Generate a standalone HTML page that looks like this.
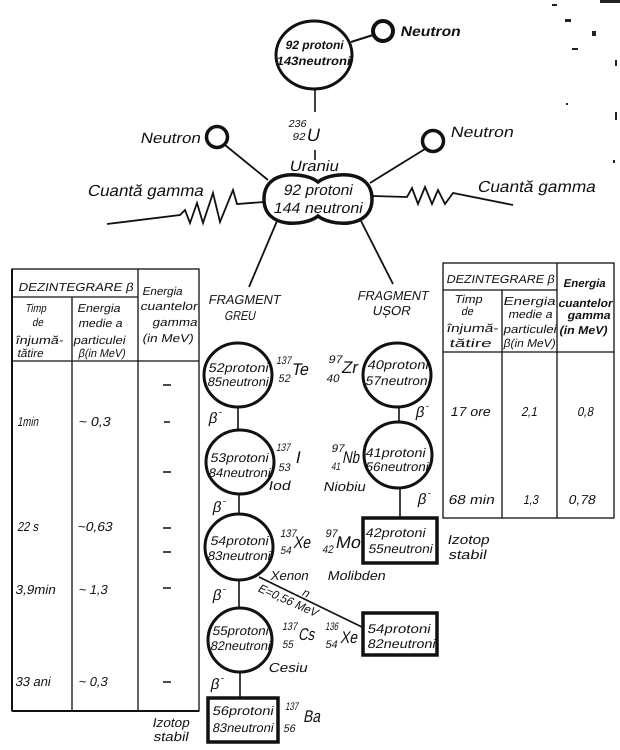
<!DOCTYPE html>
<html><head><meta charset="utf-8"><style>
html,body{margin:0;padding:0;background:#fff;}
svg{display:block;}
text{font-family:"Liberation Sans","DejaVu Sans",sans-serif;fill:#111;}
.ln{stroke:#111;fill:none;}
</style></head><body>
<svg width="620" height="750" viewBox="0 0 620 750" xmlns="http://www.w3.org/2000/svg">
<rect width="620" height="750" fill="#fff"/>

<!-- specks top right -->
<g fill="#222">
<rect x="600" y="0" width="20" height="3"/><rect x="552" y="4" width="5" height="2"/>
<rect x="565" y="19" width="6" height="3"/><rect x="592" y="31" width="4" height="5"/>
<rect x="572" y="48" width="6" height="2"/><rect x="566" y="103" width="2" height="2"/>
<rect x="615" y="60" width="2" height="6"/><rect x="615" y="112" width="2" height="8"/>
<rect x="613" y="160" width="2" height="3"/>
</g>

<!-- top U-235 -->
<ellipse cx="314" cy="55" rx="38" ry="34" class="ln" stroke-width="3"/>
<text transform="matrix(1 0 -0.2 1 285 49)" font-size="12" font-weight="bold" textLength="58" lengthAdjust="spacingAndGlyphs">92 protoni</text>
<text transform="matrix(1 0 -0.2 1 276 65)" font-size="12" font-weight="bold" textLength="74" lengthAdjust="spacingAndGlyphs">143neutroni</text>
<line x1="351" y1="42" x2="373" y2="35" class="ln" stroke-width="2"/>
<circle cx="383" cy="31" r="10" class="ln" stroke-width="4"/>
<text transform="matrix(1 0 -0.2 1 400 36)" font-size="14" font-weight="bold" textLength="60" lengthAdjust="spacingAndGlyphs">Neutron</text>

<line x1="315" y1="89" x2="315" y2="112" class="ln" stroke-width="1.6"/>
<line x1="315" y1="150" x2="315" y2="160" class="ln" stroke-width="1.6"/>
<text transform="matrix(1 0 -0.2 1 288 127)" font-size="10" textLength="18" lengthAdjust="spacingAndGlyphs">236</text>
<text transform="matrix(1 0 -0.2 1 292 140)" font-size="10" textLength="13" lengthAdjust="spacingAndGlyphs">92</text>
<text transform="matrix(1 0 -0.2 1 306 141)" font-size="18">U</text>
<text transform="matrix(1 0 -0.2 1 289 171)" font-size="15" textLength="49" lengthAdjust="spacingAndGlyphs">Uraniu</text>

<!-- side neutrons -->
<circle cx="217" cy="137" r="10.5" class="ln" stroke-width="3.5"/>
<text transform="matrix(1 0 -0.2 1 140 143)" font-size="15" textLength="60" lengthAdjust="spacingAndGlyphs">Neutron</text>
<line x1="225" y1="145" x2="268" y2="180" class="ln" stroke-width="1.8"/>
<circle cx="433" cy="141" r="10.5" class="ln" stroke-width="3.5"/>
<text transform="matrix(1 0 -0.2 1 450 137)" font-size="15" textLength="63" lengthAdjust="spacingAndGlyphs">Neutron</text>
<line x1="425" y1="149" x2="370" y2="183" class="ln" stroke-width="1.8"/>

<!-- peanut -->
<path d="M318,182 C330,172 372,168 372,199 C372,230 330,226 318,216 C306,226 264,230 264,199 C264,168 306,172 318,182 Z" class="ln" stroke-width="3.5"/>
<text transform="matrix(1 0 -0.2 1 283 195)" font-size="15" textLength="69" lengthAdjust="spacingAndGlyphs">92 protoni</text>
<text transform="matrix(1 0 -0.2 1 273 213)" font-size="15" textLength="89" lengthAdjust="spacingAndGlyphs">144 neutroni</text>

<!-- gamma -->
<polyline points="264,202 237,204 233,190 220,222 213,193 203,223 197,203 190,223 185,210 180,215 107,224" class="ln" stroke-width="1.8"/>
<polyline points="372,196 407,197 412,188 418,204 425,187 432,204 438,190 445,204 453,193 513,205" class="ln" stroke-width="1.8"/>
<text transform="matrix(1 0 -0.2 1 87 196)" font-size="16" textLength="116" lengthAdjust="spacingAndGlyphs">Cuantă gamma</text>
<text transform="matrix(1 0 -0.2 1 477 192)" font-size="16" textLength="118" lengthAdjust="spacingAndGlyphs">Cuantă gamma</text>

<!-- fragment lines -->
<line x1="277" y1="221" x2="249" y2="287" class="ln" stroke-width="1.8"/>
<line x1="361" y1="221" x2="393" y2="284" class="ln" stroke-width="1.8"/>
<text transform="matrix(1 0 -0.2 1 208 304)" font-size="13" textLength="72" lengthAdjust="spacingAndGlyphs">FRAGMENT</text>
<text transform="matrix(1 0 -0.2 1 224 320)" font-size="13" textLength="31" lengthAdjust="spacingAndGlyphs">GREU</text>
<text transform="matrix(1 0 -0.2 1 357 300)" font-size="13" textLength="71" lengthAdjust="spacingAndGlyphs">FRAGMENT</text>
<text transform="matrix(1 0 -0.2 1 372 315)" font-size="13" textLength="38" lengthAdjust="spacingAndGlyphs">UȘOR</text>

<!-- chains -->
<g class="ln" stroke-width="3">
<ellipse cx="238" cy="375" rx="34" ry="32"/>
<ellipse cx="240" cy="462" rx="34" ry="32"/>
<ellipse cx="239" cy="547" rx="34" ry="33"/>
<ellipse cx="240" cy="640" rx="32" ry="32"/>
<ellipse cx="397" cy="375" rx="34" ry="32"/>
<ellipse cx="398" cy="455" rx="34" ry="33"/>
</g>
<g class="ln" stroke-width="3.5">
<rect x="363" y="518" width="74" height="45"/>
<rect x="363" y="613" width="74" height="42"/>
<rect x="208" y="698" width="70" height="44"/>
</g>
<g class="ln" stroke-width="1.6">
<line x1="238" y1="407" x2="238" y2="430"/>
<line x1="239" y1="494" x2="239" y2="514"/>
<line x1="239" y1="580" x2="239" y2="608"/>
<line x1="240" y1="672" x2="240" y2="698"/>
<line x1="399" y1="407" x2="399" y2="422"/>
<line x1="400" y1="488" x2="400" y2="518"/>
<line x1="259" y1="577" x2="364" y2="628"/>
</g>

<g font-size="12.5">
<text transform="matrix(1 0 -0.2 1 208 372)" textLength="60" lengthAdjust="spacingAndGlyphs">52protoni</text>
<text transform="matrix(1 0 -0.2 1 207 386)" textLength="61" lengthAdjust="spacingAndGlyphs">85neutroni</text>
<text transform="matrix(1 0 -0.2 1 210 462)" textLength="58" lengthAdjust="spacingAndGlyphs">53protoni</text>
<text transform="matrix(1 0 -0.2 1 208 477)" textLength="62" lengthAdjust="spacingAndGlyphs">84neutroni</text>
<text transform="matrix(1 0 -0.2 1 210 545)" textLength="58" lengthAdjust="spacingAndGlyphs">54protoni</text>
<text transform="matrix(1 0 -0.2 1 207 560)" textLength="63" lengthAdjust="spacingAndGlyphs">83neutroni</text>
<text transform="matrix(1 0 -0.2 1 212 635)" textLength="56" lengthAdjust="spacingAndGlyphs">55protoni</text>
<text transform="matrix(1 0 -0.2 1 210 650)" textLength="60" lengthAdjust="spacingAndGlyphs">82neutroni</text>
<text transform="matrix(1 0 -0.2 1 212 715)" textLength="61" lengthAdjust="spacingAndGlyphs">56protoni</text>
<text transform="matrix(1 0 -0.2 1 212 732)" textLength="61" lengthAdjust="spacingAndGlyphs">83neutroni</text>
<text transform="matrix(1 0 -0.2 1 367 633)" textLength="63" lengthAdjust="spacingAndGlyphs">54protoni</text>
<text transform="matrix(1 0 -0.2 1 367 648)" textLength="68" lengthAdjust="spacingAndGlyphs">82neutroni</text>
<text transform="matrix(1 0 -0.2 1 367 369)" textLength="61" lengthAdjust="spacingAndGlyphs">40protoni</text>
<text transform="matrix(1 0 -0.2 1 365 385)" textLength="65" lengthAdjust="spacingAndGlyphs">57neutroni</text>
<text transform="matrix(1 0 -0.2 1 365 457)" textLength="60" lengthAdjust="spacingAndGlyphs">41protoni</text>
<text transform="matrix(1 0 -0.2 1 365 471)" textLength="63" lengthAdjust="spacingAndGlyphs">56neutroni</text>
<text transform="matrix(1 0 -0.2 1 365 537)" textLength="60" lengthAdjust="spacingAndGlyphs">42protoni</text>
<text transform="matrix(1 0 -0.2 1 368 553)" textLength="64" lengthAdjust="spacingAndGlyphs">55neutroni</text>
</g>

<!-- isotope labels -->
<g font-size="11">
<text transform="matrix(1 0 -0.2 1 276 364)" textLength="15" lengthAdjust="spacingAndGlyphs">137</text>
<text transform="matrix(1 0 -0.2 1 278 382)" textLength="12" lengthAdjust="spacingAndGlyphs">52</text>
<text transform="matrix(1 0 -0.2 1 276 451)" textLength="14" lengthAdjust="spacingAndGlyphs">137</text>
<text transform="matrix(1 0 -0.2 1 278 471)" textLength="12" lengthAdjust="spacingAndGlyphs">53</text>
<text transform="matrix(1 0 -0.2 1 280 537)" textLength="16" lengthAdjust="spacingAndGlyphs">137</text>
<text transform="matrix(1 0 -0.2 1 280 554)" textLength="11" lengthAdjust="spacingAndGlyphs">54</text>
<text transform="matrix(1 0 -0.2 1 282 630)" textLength="15" lengthAdjust="spacingAndGlyphs">137</text>
<text transform="matrix(1 0 -0.2 1 282 648)" textLength="11" lengthAdjust="spacingAndGlyphs">55</text>
<text transform="matrix(1 0 -0.2 1 325 630)" textLength="13" lengthAdjust="spacingAndGlyphs">136</text>
<text transform="matrix(1 0 -0.2 1 325 648)" textLength="12" lengthAdjust="spacingAndGlyphs">54</text>
<text transform="matrix(1 0 -0.2 1 285 710)" textLength="13" lengthAdjust="spacingAndGlyphs">137</text>
<text transform="matrix(1 0 -0.2 1 283 732)" textLength="12" lengthAdjust="spacingAndGlyphs">56</text>
<text transform="matrix(1 0 -0.2 1 328 363)" textLength="14" lengthAdjust="spacingAndGlyphs">97</text>
<text transform="matrix(1 0 -0.2 1 326 382)" textLength="13" lengthAdjust="spacingAndGlyphs">40</text>
<text transform="matrix(1 0 -0.2 1 331 452)" textLength="13" lengthAdjust="spacingAndGlyphs">97</text>
<text transform="matrix(1 0 -0.2 1 331 470)" textLength="9" lengthAdjust="spacingAndGlyphs">41</text>
<text transform="matrix(1 0 -0.2 1 325 537)" textLength="12" lengthAdjust="spacingAndGlyphs">97</text>
<text transform="matrix(1 0 -0.2 1 322 553)" textLength="11" lengthAdjust="spacingAndGlyphs">42</text>
</g>
<g font-size="17">
<text transform="matrix(1 0 -0.2 1 291 375)" textLength="17" lengthAdjust="spacingAndGlyphs">Te</text>
<text transform="matrix(1 0 -0.2 1 295 463)">I</text>
<text transform="matrix(1 0 -0.2 1 293 548)" textLength="17" lengthAdjust="spacingAndGlyphs">Xe</text>
<text transform="matrix(1 0 -0.2 1 298 640)" textLength="16" lengthAdjust="spacingAndGlyphs">Cs</text>
<text transform="matrix(1 0 -0.2 1 340 643)" textLength="17" lengthAdjust="spacingAndGlyphs">Xe</text>
<text transform="matrix(1 0 -0.2 1 303 722)" textLength="17" lengthAdjust="spacingAndGlyphs">Ba</text>
<text transform="matrix(1 0 -0.2 1 341 373)" textLength="16" lengthAdjust="spacingAndGlyphs">Zr</text>
<text transform="matrix(1 0 -0.2 1 342 463)" textLength="17" lengthAdjust="spacingAndGlyphs">Nb</text>
<text transform="matrix(1 0 -0.2 1 335 548)" textLength="25" lengthAdjust="spacingAndGlyphs">Mo</text>
</g>
<g font-size="13">
<text transform="matrix(1 0 -0.2 1 268 490)" textLength="22" lengthAdjust="spacingAndGlyphs">Iod</text>
<text transform="matrix(1 0 -0.2 1 323 491)" textLength="42" lengthAdjust="spacingAndGlyphs">Niobiu</text>
<text transform="matrix(1 0 -0.2 1 270 580)" textLength="38" lengthAdjust="spacingAndGlyphs">Xenon</text>
<text transform="matrix(1 0 -0.2 1 327 580)" textLength="58" lengthAdjust="spacingAndGlyphs">Molibden</text>
<text transform="matrix(1 0 -0.2 1 268 672)" textLength="39" lengthAdjust="spacingAndGlyphs">Cesiu</text>
<text transform="matrix(1 0 -0.2 1 152 727)" textLength="37" lengthAdjust="spacingAndGlyphs">Izotop</text>
<text transform="matrix(1 0 -0.2 1 153 741)" textLength="35" lengthAdjust="spacingAndGlyphs">stabil</text>
<text transform="matrix(1 0 -0.2 1 447 544)" textLength="42" lengthAdjust="spacingAndGlyphs">Izotop</text>
<text transform="matrix(1 0 -0.2 1 448 559)" textLength="38" lengthAdjust="spacingAndGlyphs">stabil</text>
</g>

<!-- beta labels -->
<g font-size="15">
<text transform="matrix(1 0 -0.2 1 208 423)">β<tspan font-size="10" dy="-8">-</tspan></text>
<text transform="matrix(1 0 -0.2 1 212 512)">β<tspan font-size="10" dy="-8">-</tspan></text>
<text transform="matrix(1 0 -0.2 1 212 600)">β<tspan font-size="10" dy="-8">-</tspan></text>
<text transform="matrix(1 0 -0.2 1 210 689)">β<tspan font-size="10" dy="-8">-</tspan></text>
<text transform="matrix(1 0 -0.2 1 415 417)">β<tspan font-size="10" dy="-8">-</tspan></text>
<text transform="matrix(1 0 -0.2 1 417 504)">β<tspan font-size="10" dy="-8">-</tspan></text>
</g>

<!-- neutron emission labels -->
<text font-size="12" transform="translate(301,595) rotate(25) skewX(-11)">n</text>
<text font-size="12" textLength="64" lengthAdjust="spacingAndGlyphs" transform="translate(257,591) rotate(24) skewX(-11)">E=0,56 MeV</text>

<!-- LEFT TABLE -->
<g class="ln" stroke-width="1.3">
<rect x="12" y="269" width="187" height="442"/>
<line x1="12" y1="297" x2="138" y2="297"/>
<line x1="72" y1="297" x2="72" y2="711"/>
<line x1="138" y1="269" x2="138" y2="711"/>
<line x1="12" y1="361" x2="199" y2="361"/>
</g>
<line x1="12" y1="269" x2="12" y2="711" class="ln" stroke-width="2"/>
<line x1="12" y1="711" x2="199" y2="711" class="ln" stroke-width="2"/>
<g font-size="11.5">
<text transform="matrix(1 0 -0.2 1 18 291)" textLength="115" lengthAdjust="spacingAndGlyphs">DEZINTEGRARE β</text>
<text transform="matrix(1 0 -0.2 1 142 295)" textLength="40" lengthAdjust="spacingAndGlyphs">Energia</text>
<text transform="matrix(1 0 -0.2 1 140 310)" textLength="57" lengthAdjust="spacingAndGlyphs">cuantelor</text>
<text transform="matrix(1 0 -0.2 1 152 326)" textLength="45" lengthAdjust="spacingAndGlyphs">gamma</text>
<text transform="matrix(1 0 -0.2 1 142 342)" textLength="51" lengthAdjust="spacingAndGlyphs">(in MeV)</text>
<text transform="matrix(1 0 -0.2 1 25 312)" textLength="21" lengthAdjust="spacingAndGlyphs">Timp</text>
<text transform="matrix(1 0 -0.2 1 32 326)" textLength="11" lengthAdjust="spacingAndGlyphs">de</text>
<text transform="matrix(1 0 -0.2 1 15 344)" textLength="48" lengthAdjust="spacingAndGlyphs">înjumă-</text>
<text transform="matrix(1 0 -0.2 1 17 357)" textLength="26" lengthAdjust="spacingAndGlyphs">tătire</text>
<text transform="matrix(1 0 -0.2 1 77 312)" textLength="43" lengthAdjust="spacingAndGlyphs">Energia</text>
<text transform="matrix(1 0 -0.2 1 78 327)" textLength="44" lengthAdjust="spacingAndGlyphs">medie a</text>
<text transform="matrix(1 0 -0.2 1 73 344)" textLength="52" lengthAdjust="spacingAndGlyphs">particulei</text>
<text transform="matrix(1 0 -0.2 1 78 357)" textLength="47" lengthAdjust="spacingAndGlyphs">β(in MeV)</text>
</g>
<g font-size="13">
<text transform="matrix(1 0 -0.2 1 17 426)" textLength="21" lengthAdjust="spacingAndGlyphs">1min</text>
<text transform="matrix(1 0 -0.2 1 78 426)" textLength="32" lengthAdjust="spacingAndGlyphs">~ 0,3</text>
<text transform="matrix(1 0 -0.2 1 17 531)" textLength="21" lengthAdjust="spacingAndGlyphs">22 s</text>
<text transform="matrix(1 0 -0.2 1 77 531)" textLength="35" lengthAdjust="spacingAndGlyphs">~0,63</text>
<text transform="matrix(1 0 -0.2 1 15 594)" textLength="40" lengthAdjust="spacingAndGlyphs">3,9min</text>
<text transform="matrix(1 0 -0.2 1 78 594)" textLength="29" lengthAdjust="spacingAndGlyphs">~ 1,3</text>
<text transform="matrix(1 0 -0.2 1 15 686)" textLength="35" lengthAdjust="spacingAndGlyphs">33 ani</text>
<text transform="matrix(1 0 -0.2 1 78 686)" textLength="29" lengthAdjust="spacingAndGlyphs">~ 0,3</text>
</g>
<g class="ln" stroke-width="1.5">
<line x1="163" y1="385" x2="171" y2="385"/>
<line x1="164" y1="422" x2="170" y2="422"/>
<line x1="163" y1="472" x2="171" y2="472"/>
<line x1="163" y1="528" x2="171" y2="528"/>
<line x1="163" y1="552" x2="171" y2="552"/>
<line x1="163" y1="588" x2="171" y2="588"/>
<line x1="163" y1="682" x2="171" y2="682"/>
</g>

<!-- RIGHT TABLE -->
<g class="ln" stroke-width="1.3">
<rect x="443" y="263" width="171" height="255"/>
<line x1="443" y1="290" x2="557" y2="290"/>
<line x1="502" y1="290" x2="502" y2="518"/>
<line x1="557" y1="263" x2="557" y2="518"/>
<line x1="443" y1="352" x2="614" y2="352"/>
</g>
<g font-size="11.5">
<text transform="matrix(1 0 -0.2 1 446 283)" textLength="108" lengthAdjust="spacingAndGlyphs">DEZINTEGRARE β</text>
<text transform="matrix(1 0 -0.2 1 454 303)" textLength="28" lengthAdjust="spacingAndGlyphs">Timp</text>
<text transform="matrix(1 0 -0.2 1 461 315)" textLength="12" lengthAdjust="spacingAndGlyphs">de</text>
<text transform="matrix(1 0 -0.2 1 446 332)" textLength="52" lengthAdjust="spacingAndGlyphs">înjumă-</text>
<text transform="matrix(1 0 -0.2 1 449 347)" textLength="42" lengthAdjust="spacingAndGlyphs">tătire</text>
<text transform="matrix(1 0 -0.2 1 503 305)" textLength="52" lengthAdjust="spacingAndGlyphs">Energia</text>
<text transform="matrix(1 0 -0.2 1 508 318)" textLength="44" lengthAdjust="spacingAndGlyphs">medie a</text>
<text transform="matrix(1 0 -0.2 1 503 333)" textLength="53" lengthAdjust="spacingAndGlyphs">particulei</text>
<text transform="matrix(1 0 -0.2 1 503 347)" textLength="52" lengthAdjust="spacingAndGlyphs">β(in MeV)</text>
<text transform="matrix(1 0 -0.2 1 563 287)" font-weight="bold" textLength="42" lengthAdjust="spacingAndGlyphs">Energia</text>
<text transform="matrix(1 0 -0.2 1 558 307)" font-weight="bold" textLength="54" lengthAdjust="spacingAndGlyphs">cuantelor</text>
<text transform="matrix(1 0 -0.2 1 567 319)" font-weight="bold" textLength="43" lengthAdjust="spacingAndGlyphs">gamma</text>
<text transform="matrix(1 0 -0.2 1 559 334)" font-weight="bold" textLength="48" lengthAdjust="spacingAndGlyphs">(in MeV)</text>
</g>
<g font-size="13">
<text transform="matrix(1 0 -0.2 1 450 416)" textLength="40" lengthAdjust="spacingAndGlyphs">17 ore</text>
<text transform="matrix(1 0 -0.2 1 521 416)" textLength="16" lengthAdjust="spacingAndGlyphs">2,1</text>
<text transform="matrix(1 0 -0.2 1 577 416)" textLength="16" lengthAdjust="spacingAndGlyphs">0,8</text>
<text transform="matrix(1 0 -0.2 1 448 504)" textLength="46" lengthAdjust="spacingAndGlyphs">68 min</text>
<text transform="matrix(1 0 -0.2 1 523 504)" textLength="15" lengthAdjust="spacingAndGlyphs">1,3</text>
<text transform="matrix(1 0 -0.2 1 568 504)" textLength="27" lengthAdjust="spacingAndGlyphs">0,78</text>
</g>
</svg>
</body></html>
